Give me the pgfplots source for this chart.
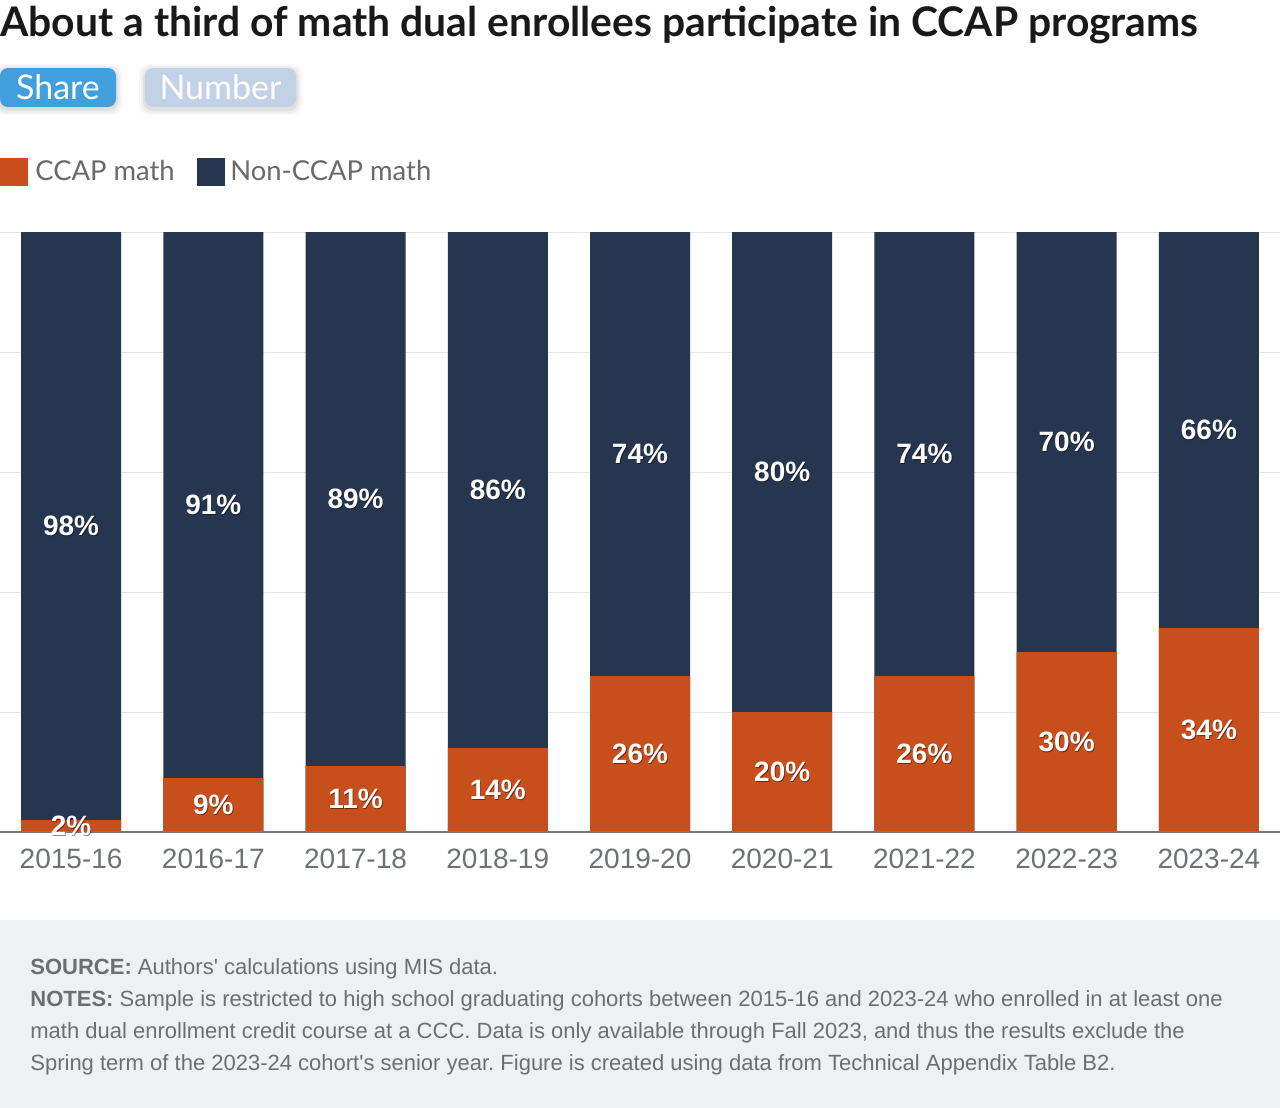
\documentclass[border=0pt]{standalone}
\usepackage{fontspec}
\setmainfont{Liberation Sans}
\newfontfamily\headfont{Lato}
\usepackage{pgfplots}
\usepackage{pgfplotstable}
\pgfplotsset{compat=1.18}
\frenchspacing

\definecolor{ccap}{HTML}{C84E1B}
\definecolor{nonccap}{HTML}{273650}
\definecolor{gridgray}{HTML}{E3E3E3}
\definecolor{axisgray}{HTML}{76787C}
\definecolor{ticktext}{HTML}{6E7176}
\definecolor{legtext}{HTML}{6A6A6A}
\definecolor{btnblue}{HTML}{429FDE}
\definecolor{btnpale}{HTML}{C2D1E5}
\definecolor{footbg}{HTML}{EFF0F2}
\definecolor{foottext}{HTML}{6B6E73}

% shares of math dual enrollees by graduating cohort (percent)
\pgfplotstableread{
x ccap non
0 2 98
1 9 91
2 11 89
3 14 86
4 26 74
5 20 80
6 26 74
7 30 70
8 34 66
}\sharedata

\begin{document}
\begin{tikzpicture}
\useasboundingbox (0pt,0pt) rectangle (640pt,-554pt);
\begin{scope}[x=0.5pt,y=-0.5pt]
\fill[white] (0,0) rectangle (1280,1108);

% title
\node[anchor=base west,inner sep=0pt,text=black!90] at (0,36)
  {\headfont\bfseries\fontsize{20.4}{22}\selectfont About a third of math dual enrollees participate in CCAP programs};

% toggle buttons with a soft halo
\foreach \g/\o in {6/0.03,4/0.04,2/0.05}{
  \fill[black,opacity=\o,rounded corners=5pt] (0-\g,68-\g+2) rectangle (116+\g,107+\g+2);
  \fill[black,opacity=\o,rounded corners=5pt] (145-\g,68-\g+2) rectangle (296+\g,107+\g+2);
}
\fill[btnblue,rounded corners=4pt] (0,68) rectangle (116,107);
\node[anchor=base,inner sep=0pt,text=white] at (58,99) {\headfont\fontsize{17}{18}\selectfont Share};
\fill[btnpale,rounded corners=4pt] (145,68) rectangle (296,107);
\node[anchor=base,inner sep=0pt,text=white] at (220.5,99) {\headfont\fontsize{17}{18}\selectfont Number};

% legend
\fill[ccap] (0,158) rectangle (28,186);
\node[anchor=base west,inner sep=0pt,text=legtext] at (35,180) {\headfont\fontsize{13.7}{15}\selectfont CCAP math};
\fill[nonccap] (197,158) rectangle (225,186);
\node[anchor=base west,inner sep=0pt,text=legtext] at (230,180) {\headfont\fontsize{13.7}{15}\selectfont Non-CCAP math};

% footer
\fill[footbg] (0,920) rectangle (1280,1108);
\begin{scope}[every node/.style={anchor=base west,inner sep=0pt,text=foottext,font=\fontsize{11}{12}\selectfont}]
\node at (30,974) {\textbf{SOURCE:} Authors\textquotesingle{} calculations using MIS data.};
\node at (30,1006) {\textbf{NOTES:} Sample is restricted to high school graduating cohorts between 2015-16 and 2023-24 who enrolled in at least one};
\node at (30,1038) {math dual enrollment credit course at a CCC. Data is only available through Fall 2023, and thus the results exclude the};
\node at (30,1070) {Spring term of the 2023-24 cohort\textquotesingle{}s senior year. Figure is created using data from Technical Appendix Table B2.};
\end{scope}
\end{scope}

\begin{axis}[
  at={(0pt,-416pt)}, anchor=south west,
  scale only axis, width=640pt, height=300pt,
  xmin=-0.5, xmax=8.5, ymin=0, ymax=100,
  axis line style={draw=none},
  xtick=data,
  xticklabels={2015-16,2016-17,2017-18,2018-19,2019-20,2020-21,2021-22,2022-23,2023-24},
  xticklabel style={font=\fontsize{14}{16}\selectfont, text=ticktext, yshift=-5pt},
  xtick style={draw=none},
  ytick={0,20,40,60,80,100}, yticklabels={},
  ytick style={draw=none},
  ymajorgrids, grid style={gridgray, line width=0.5pt},
  clip=false,
  every node near coord/.append style={anchor=center, text=white, font=\bfseries\fontsize{14}{16}\selectfont},
  pctlabel/.style={draw=none, mark=none,
    nodes near coords={\pgfmathprintnumber[assume math mode=true]{\pgfplotspointmeta}\%}},
  pctshadow/.style={pctlabel,
    every node near coord/.append style={text=black, opacity=0.45, xshift=0.4pt, yshift=-0.5pt}},
]
% full-height bars: CCAP plus non-CCAP
\addplot[ybar, bar width=50pt, bar shift=0pt, fill=nonccap, draw=none]
  table[x=x, y expr=\thisrow{ccap}+\thisrow{non}] {\sharedata};
% CCAP part at the bottom
\addplot[ybar, bar width=50pt, bar shift=0pt, fill=ccap, draw=none]
  table[x=x, y=ccap] {\sharedata};
% baseline
\draw[axisgray, line width=0.7pt] (axis cs:-0.5,0) -- (axis cs:8.5,0);
% segment labels at segment centres, with a soft dark shadow
\addplot[pctshadow, point meta=\thisrow{ccap}]
  table[x=x, y expr=\thisrow{ccap}/2] {\sharedata};
\addplot[pctshadow, point meta=\thisrow{non}]
  table[x=x, y expr=\thisrow{ccap}+\thisrow{non}/2] {\sharedata};
\addplot[pctlabel, point meta=\thisrow{ccap}]
  table[x=x, y expr=\thisrow{ccap}/2] {\sharedata};
\addplot[pctlabel, point meta=\thisrow{non}]
  table[x=x, y expr=\thisrow{ccap}+\thisrow{non}/2] {\sharedata};
\end{axis}
\end{tikzpicture}
\end{document}
